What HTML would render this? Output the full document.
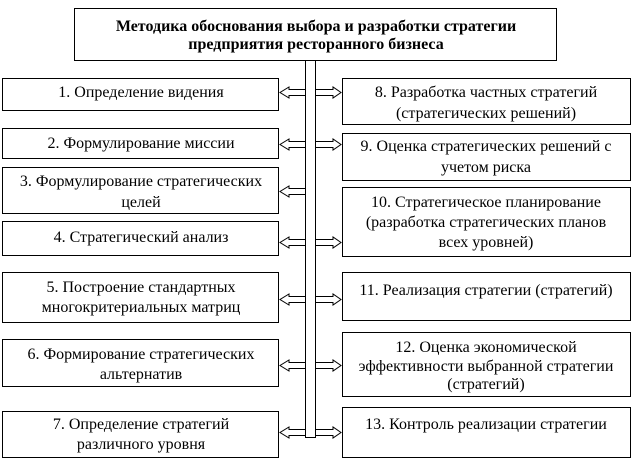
<!DOCTYPE html>
<html><head><meta charset="utf-8"><style>
html,body{margin:0;padding:0;background:#fff;}
svg{display:block}
text{font-family:"Liberation Serif","DejaVu Serif",serif;font-size:16px;fill:#000;text-anchor:middle}
</style></head><body>
<svg width="634" height="469" viewBox="0 0 634 469" xmlns="http://www.w3.org/2000/svg">
<g fill="#fff" stroke="#000" stroke-width="1">
<rect x="74.5" y="8.5" width="482" height="52"/>
<rect x="305.5" y="60.5" width="10" height="377"/>
<rect x="2.5" y="78.5" width="276" height="32"/>
<rect x="2.5" y="128.5" width="276" height="30"/>
<rect x="2.5" y="167.5" width="276" height="46"/>
<rect x="2.5" y="221.5" width="276" height="34"/>
<rect x="2.5" y="272.5" width="276" height="50"/>
<rect x="2.5" y="339.5" width="276" height="47"/>
<rect x="2.5" y="411.5" width="276" height="46"/>
<rect x="342.5" y="78.5" width="288" height="46"/>
<rect x="342.5" y="133.5" width="288" height="47"/>
<rect x="342.5" y="187.5" width="288" height="69"/>
<rect x="342.5" y="272.5" width="288" height="48"/>
<rect x="342.5" y="332.5" width="288" height="64"/>
<rect x="342.5" y="407.5" width="288" height="50"/>
</g>
<g fill="#fff" stroke="#000" stroke-width="1">
<path id="L" d="M305 89.5 H289 V87 L280 92.5 L289 98 V95.5 H305"/>
<use href="#L" y="52"/><use href="#L" y="99"/><use href="#L" y="150"/><use href="#L" y="207"/><use href="#L" y="273"/><use href="#L" y="340"/>
<path id="R" d="M316 89.5 H333 V87 L341 92.5 L333 98 V95.5 H316"/>
<use href="#R" y="52"/><use href="#R" y="150"/><use href="#R" y="207"/><use href="#R" y="273"/><use href="#R" y="340"/>
</g>
<text x="316" y="31" style="font-weight:bold">Методика обоснования выбора и разработки стратегии</text>
<text x="316" y="49" style="font-weight:bold">предприятия ресторанного бизнеса</text>
<text x="141" y="97">1. Определение видения</text>
<text x="141" y="148">2. Формулирование миссии</text>
<text x="141" y="186">3. Формулирование стратегических</text>
<text x="141" y="207">целей</text>
<text x="141" y="242">4. Стратегический анализ</text>
<text x="141" y="292">5. Построение стандартных</text>
<text x="141" y="312">многокритериальных матриц</text>
<text x="141" y="359">6. Формирование стратегических</text>
<text x="141" y="379">альтернатив</text>
<text x="141" y="429">7. Определение стратегий</text>
<text x="141" y="449">различного уровня</text>
<text x="486" y="97">8. Разработка частных стратегий</text>
<text x="486" y="118">(стратегических решений)</text>
<text x="486" y="151">9. Оценка стратегических решений с</text>
<text x="486" y="172">учетом риска</text>
<text x="486" y="207">10. Стратегическое планирование</text>
<text x="486" y="227">(разработка стратегических планов</text>
<text x="486" y="247">всех уровней)</text>
<text x="486" y="295">11. Реализация стратегии (стратегий)</text>
<text x="486" y="352">12. Оценка экономической</text>
<text x="486" y="371">эффективности выбранной стратегии</text>
<text x="486" y="389">(стратегий)</text>
<text x="486" y="429">13. Контроль реализации стратегии</text>
</svg>
</body></html>
